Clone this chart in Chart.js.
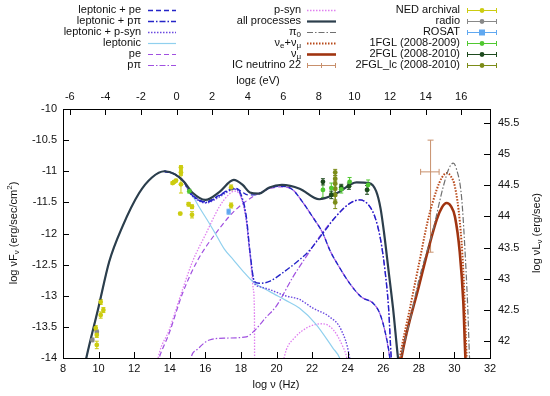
<!DOCTYPE html>
<html>
<head>
<meta charset="utf-8">
<script src="https://cdn.jsdelivr.net/npm/chart.js@4"></script>
<style>
  html, body { margin: 0; padding: 0; background: #fff; }
  #wrap { width: 550px; height: 396px; }
</style>
</head>
<body>
<div id="wrap"><canvas id="sed"></canvas></div>
<script>
// axis ticks
const nuTicks = [8, 10, 12, 14, 16, 18, 20, 22, 24, 26, 28, 30, 32];
const epsTicks = [-6, -4, -2, 0, 2, 4, 6, 8, 10, 12, 14, 16];
const fluxTicks = [-14, -13.5, -13, -12.5, -12, -11.5, -11, -10.5, -10];
const lumTicks = [42, 42.5, 43, 43.5, 44, 44.5, 45, 45.5];

// model curves: [log nu (Hz), log nuF_nu]
const allProc = [[9.2,-14.15],[9.31,-14],[10.0,-13.18],[10.6,-12.45],[11.34,-11.89],[12.28,-11.35],[13.0,-11.1],[13.7,-11.0],[14.3,-11.05],[14.8,-11.17],[15.3,-11.35],[16.0,-11.46],[16.8,-11.33],[17.6,-11.14],[18.1,-11.22],[18.5,-11.34],[19.0,-11.36],[19.6,-11.26],[20.3,-11.22],[21.3,-11.28],[22.4,-11.45],[23.4,-11.35],[24.5,-11.18],[25.2,-11.19],[25.6,-11.32],[25.85,-11.6],[26.05,-12.0],[26.3,-12.6],[26.55,-13.2],[26.83,-14],[26.9,-14.15]];
const leptonic = [[9.2,-14.15],[9.31,-14],[10.0,-13.18],[10.6,-12.45],[11.34,-11.89],[12.28,-11.35],[13.0,-11.1],[13.7,-11.0],[14.3,-11.05],[14.8,-11.17],[15.1,-11.3],[15.6,-11.55],[16.1,-11.78],[16.6,-12.02],[17.07,-12.25],[17.6,-12.43],[18.1,-12.6],[18.66,-12.77],[19.6,-12.93],[20.5,-13.07],[21.3,-13.2],[22.2,-13.45],[23.17,-13.84],[23.55,-14],[23.65,-14.1]];
const lepPe = [[13.7,-11.0],[14.3,-11.05],[14.8,-11.17],[15.1,-11.33],[15.6,-11.45],[16.04,-11.49],[16.8,-11.38],[17.45,-11.28],[17.65,-11.27],[18.0,-11.32],[18.4,-11.38],[18.8,-11.38],[19.6,-11.27],[20.3,-11.24],[20.92,-11.3],[21.48,-11.5],[22.0,-11.72],[22.61,-12.0],[23.0,-12.27],[23.55,-12.55],[24.11,-12.8],[24.77,-13.02],[25.43,-13.12],[25.8,-13.28],[26.08,-13.55],[26.37,-14],[26.42,-14.15]];
const lepPpi = [[13.7,-11.0],[14.3,-11.05],[14.8,-11.17],[15.1,-11.33],[15.6,-11.46],[16.04,-11.5],[16.8,-11.39],[17.45,-11.29],[17.65,-11.28],[18.0,-11.37],[18.3,-11.72],[18.5,-12.27],[18.76,-12.77],[19.04,-12.8],[19.6,-12.77],[20.4,-12.62],[21.3,-12.42],[21.86,-12.27],[22.6,-12.0],[23.36,-11.72],[24.1,-11.52],[24.68,-11.46],[25.2,-11.55],[25.55,-11.75],[25.85,-12.1],[26.1,-12.6],[26.3,-13.2],[26.45,-14],[26.5,-14.15]];
const lepPsyn = [[13.7,-11.0],[14.3,-11.05],[14.8,-11.17],[15.1,-11.34],[15.6,-11.47],[16.04,-11.51],[16.8,-11.41],[17.45,-11.3],[17.65,-11.29],[18.0,-11.4],[18.3,-11.78],[18.5,-12.3],[18.76,-12.8],[19.0,-12.85],[19.6,-12.9],[20.5,-13.0],[21.3,-13.06],[22.05,-13.2],[22.99,-13.34],[23.64,-13.55],[24.11,-14],[24.15,-14.1]];
const pe = [[13.3,-14.1],[13.4,-14],[13.97,-13.6],[14.72,-12.96],[15.57,-12.43],[16.79,-11.92],[17.7,-11.62],[18.66,-11.41],[19.6,-11.28],[20.3,-11.25],[20.92,-11.3],[21.48,-11.5],[22.0,-11.72],[22.61,-12.0],[23.0,-12.27],[23.55,-12.55],[24.11,-12.8],[24.77,-13.02],[25.43,-13.12],[25.8,-13.28],[26.08,-13.55],[26.37,-14],[26.42,-14.1]];
const pPi = [[15.1,-14.15],[15.19,-14],[15.6,-13.85],[16.23,-13.71],[17.17,-13.68],[18.3,-13.66],[18.8,-13.55],[19.4,-13.35],[19.98,-13.17],[20.92,-12.7],[21.86,-12.29],[22.42,-12.05],[23.36,-11.72],[24.1,-11.52],[24.68,-11.46],[25.2,-11.55],[25.55,-11.75],[25.85,-12.1],[26.1,-12.6],[26.3,-13.2],[26.45,-14],[26.5,-14.15]];
const pSyn = [[13.3,-14.1],[13.35,-14],[13.97,-13.55],[14.72,-12.9],[15.28,-12.45],[16.04,-12.0],[16.79,-11.57],[17.3,-11.38],[17.63,-11.32],[18.01,-11.42],[18.29,-11.75],[18.5,-12.3],[18.7,-12.9],[18.76,-13.3],[18.77,-14.2]];
const pSynHigh = [[20.3,-14.15],[20.55,-13.87],[21.0,-13.68],[21.8,-13.5],[22.6,-13.45],[23.2,-13.55],[23.7,-13.8],[23.95,-14],[24.0,-14.1]];
const pi0 = [[26.95,-14.1],[27.0,-14],[27.5,-13.4],[28.0,-12.75],[28.8,-11.94],[29.37,-11.25],[29.7,-10.95],[29.93,-10.87],[30.1,-10.95],[30.4,-11.41],[30.6,-12.3],[30.75,-13.2],[30.85,-14],[30.87,-14.1]];
const nuEMu = [[26.88,-14.1],[26.93,-14],[27.5,-13.2],[28.0,-12.5],[28.5,-11.8],[29.0,-11.3],[29.3,-11.1],[29.56,-11.03],[29.8,-11.08],[30.03,-11.25],[30.3,-11.8],[30.5,-12.6],[30.69,-14],[30.71,-14.1]];
const nuMu = [[26.97,-14.1],[27.02,-14],[28.0,-12.85],[29.0,-11.78],[29.3,-11.58],[29.56,-11.51],[29.8,-11.56],[30.03,-11.73],[30.3,-12.3],[30.5,-13.1],[30.62,-14],[30.65,-14.1]];

// data points: [log nu, log nuF_nu, error]
const nedPts = [[9.84,-13.52,0.04],[9.9,-13.63,0.04],[9.9,-13.79,0.06],[10.12,-13.1,0.04],[10.27,-13.23,0.04],[10.12,-13.31,0.05],[14.63,-10.94,0.03],[14.63,-11.02,0.03],[14.16,-11.19,0.02],[14.25,-11.17,0.02],[14.35,-11.15,0.02],[14.63,-11.21,0.14],[15.06,-11.53,0.03],[15.25,-11.57,0.03],[14.59,-11.68,0.02],[15.25,-11.7,0.05],[17.45,-11.26,0.04],[17.45,-11.55,0.04]];
const radioPts = [[9.9,-13.58,0.03],[9.65,-13.71,0.03]];
const rosatPts = [[17.31,-11.65,0.04]];
const fgl1Pts = [[15.1,-11.32,0.03],[22.61,-11.3,0.12],[23.08,-11.27,0.08],[23.64,-11.29,0.06],[24.11,-11.17,0.07],[25.15,-11.22,0.08]];
const fgl2Pts = [[22.61,-11.17,0.05],[23.08,-11.38,0.06],[23.64,-11.26,0.05],[24.07,-11.24,0.05],[25.09,-11.3,0.07]];
const lcPts = [[23.3,-11.02,0.05],[23.3,-11.12,0.05],[23.3,-11.2,0.06],[23.3,-11.28,0.07],[23.3,-11.38,0.08],[23.3,-11.5,0.1]];
// IC neutrino 22: [log nu, log nuF_nu, nu low, nu high, flux low, flux high]
const icNu = [[28.66,-11.01,28.1,29.14,-12.3,-10.5]];

const FAM = '"Liberation Sans", Arial, sans-serif';

const curveStyles = [
  {data: allProc, color: '#2c3e4c', width: 2.2, dash: []},
  {data: lepPe, color: '#2424c8', width: 1.4, dash: [5, 3]},
  {data: lepPpi, color: '#2424c8', width: 1.4, dash: [6, 2, 1.5, 2]},
  {data: lepPsyn, color: '#6a48e0', width: 1.4, dash: [1.5, 1.5]},
  {data: leptonic, color: '#90d0ee', width: 1.2, dash: []},
  {data: pe, color: '#a050e0', width: 1.2, dash: [5, 3]},
  {data: pPi, color: '#a050e0', width: 1.2, dash: [6, 2, 1.5, 2]},
  {data: pSyn, color: '#e080f0', width: 1.3, dash: [1.5, 1.5]},
  {data: pSynHigh, color: '#e080f0', width: 1.3, dash: [1.5, 1.5]},
  {data: pi0, color: '#707070', width: 1.2, dash: [6, 2, 1.5, 2]},
  {data: nuEMu, color: '#b84818', width: 2, dash: [1.5, 1.5]},
  {data: nuMu, color: '#a03410', width: 2.6, dash: []}
];

const pointStyles = [
  {data: nedPts, color: '#cccc10', shape: 'circle'},
  {data: radioPts, color: '#888888', shape: 'circle'},
  {data: rosatPts, color: '#60a8f0', shape: 'rect'},
  {data: fgl1Pts, color: '#50c830', shape: 'circle'},
  {data: fgl2Pts, color: '#1e4a1e', shape: 'circle'},
  {data: lcPts, color: '#7c8c18', shape: 'circle'}
];

const datasets = [];
pointStyles.forEach(s => datasets.push({
  data: s.data.map(p => ({x: p[0], y: p[1]})),
  showLine: false, pointStyle: s.shape, pointRadius: s.shape === 'rect' ? 3 : 2.4,
  backgroundColor: s.color, borderColor: s.color, borderWidth: 0
}));
curveStyles.forEach(s => datasets.push({
  data: s.data.map(p => ({x: p[0], y: p[1]})),
  showLine: true, pointRadius: 0, borderColor: s.color, borderWidth: s.width,
  borderDash: s.dash, cubicInterpolationMode: 'monotone', fill: false
}));

function drawRich(ctx, parts, x, y, align) {
  let w = 0;
  parts.forEach(p => { ctx.font = (p[1] ? '8px ' : '11px ') + FAM; w += ctx.measureText(p[0]).width; });
  let cx = align === 'right' ? x - w : align === 'center' ? x - w / 2 : x;
  ctx.textAlign = 'left';
  ctx.textBaseline = 'middle';
  parts.forEach(p => {
    ctx.font = (p[1] ? '8px ' : '11px ') + FAM;
    const dy = p[1] === 'sub' ? 3 : p[1] === 'sup' ? -4 : 0;
    ctx.fillText(p[0], cx, y + dy);
    cx += ctx.measureText(p[0]).width;
  });
}

// legend layout: [text parts, kind, style]
const legendCols = [
  {textRight: 141, x1: 148, x2: 176, items: [
    [[['leptonic + pe', '']], 'line', curveStyles[1]],
    [[['leptonic + pπ', '']], 'line', curveStyles[2]],
    [[['leptonic + p-syn', '']], 'line', curveStyles[3]],
    [[['leptonic', '']], 'line', curveStyles[4]],
    [[['pe', '']], 'line', curveStyles[5]],
    [[['pπ', '']], 'line', curveStyles[6]]
  ]},
  {textRight: 301, x1: 307, x2: 336, items: [
    [[['p-syn', '']], 'line', curveStyles[7]],
    [[['all processes', '']], 'line', curveStyles[0]],
    [[['π', ''], ['0', 'sub']], 'line', curveStyles[9]],
    [[['ν', ''], ['e', 'sub'], ['+ν', ''], ['μ', 'sub']], 'line', curveStyles[10]],
    [[['ν', ''], ['μ', 'sub']], 'line', curveStyles[11]],
    [[['IC neutrino 22', '']], 'bar', {color: '#c8906c'}]
  ]},
  {textRight: 460, x1: 467, x2: 497, items: [
    [[['NED archival', '']], 'pt', pointStyles[0]],
    [[['radio', '']], 'pt', pointStyles[1]],
    [[['ROSAT', '']], 'pt', pointStyles[2]],
    [[['1FGL (2008-2009)', '']], 'pt', pointStyles[3]],
    [[['2FGL (2008-2010)', '']], 'pt', pointStyles[4]],
    [[['2FGL_lc (2008-2010)', '']], 'pt', pointStyles[5]]
  ]}
];

const decorPlugin = {
  id: 'decor',
  beforeDatasetsDraw(chart) {
    const ctx = chart.ctx, xs = chart.scales.x, ys = chart.scales.y;
    ctx.save();
    ctx.setLineDash([]);
    ctx.lineWidth = 1;
    pointStyles.forEach(s => {
      ctx.strokeStyle = s.color;
      s.data.forEach(p => {
        const px = xs.getPixelForValue(p[0]);
        const y1 = ys.getPixelForValue(p[1] - p[2]);
        const y2 = ys.getPixelForValue(p[1] + p[2]);
        ctx.beginPath();
        ctx.moveTo(px, y1); ctx.lineTo(px, y2);
        ctx.moveTo(px - 2, y1); ctx.lineTo(px + 2, y1);
        ctx.moveTo(px - 2, y2); ctx.lineTo(px + 2, y2);
        ctx.stroke();
      });
    });
    ctx.strokeStyle = '#c8906c';
    icNu.forEach(p => {
      const px = xs.getPixelForValue(p[0]), py = ys.getPixelForValue(p[1]);
      const xl = xs.getPixelForValue(p[2]), xr = xs.getPixelForValue(p[3]);
      const yb = ys.getPixelForValue(p[4]), yt = ys.getPixelForValue(p[5]);
      ctx.beginPath();
      ctx.moveTo(xl, py); ctx.lineTo(xr, py);
      ctx.moveTo(px, yb); ctx.lineTo(px, yt);
      ctx.moveTo(xl, py - 3); ctx.lineTo(xl, py + 3);
      ctx.moveTo(xr, py - 3); ctx.lineTo(xr, py + 3);
      ctx.moveTo(px - 3, yt); ctx.lineTo(px + 3, yt);
      ctx.moveTo(px - 3, yb); ctx.lineTo(px + 3, yb);
      ctx.stroke();
    });
    ctx.restore();
  },
  afterDraw(chart) {
    const ctx = chart.ctx, a = chart.chartArea;
    ctx.save();
    // inward tick marks
    ctx.strokeStyle = '#000';
    ctx.lineWidth = 1;
    ctx.setLineDash([]);
    ctx.beginPath();
    nuTicks.forEach(v => { const p = Math.round(chart.scales.x.getPixelForValue(v)) + 0.5; ctx.moveTo(p, a.bottom); ctx.lineTo(p, a.bottom - 6); });
    epsTicks.forEach(v => { const p = Math.round(chart.scales.x2.getPixelForValue(v)) + 0.5; ctx.moveTo(p, a.top); ctx.lineTo(p, a.top + 6); });
    fluxTicks.forEach(v => { const p = Math.round(chart.scales.y.getPixelForValue(v)) + 0.5; ctx.moveTo(a.left, p); ctx.lineTo(a.left + 6, p); });
    lumTicks.forEach(v => { const p = Math.round(chart.scales.y2.getPixelForValue(v)) + 0.5; ctx.moveTo(a.right, p); ctx.lineTo(a.right - 6, p); });
    ctx.stroke();

    // axis titles
    ctx.fillStyle = '#111';
    drawRich(ctx, [['log ν (Hz)', '']], 276, 385, 'center');
    drawRich(ctx, [['logε (eV)', '']], 258, 81, 'center');
    ctx.save();
    ctx.translate(14, 233);
    ctx.rotate(-Math.PI / 2);
    drawRich(ctx, [['log νF', ''], ['ν', 'sub'], [' (erg/sec/cm', ''], ['2', 'sup'], [')', '']], 0, 0, 'center');
    ctx.restore();
    ctx.save();
    ctx.translate(537, 233);
    ctx.rotate(-Math.PI / 2);
    drawRich(ctx, [['log νL', ''], ['ν', 'sub'], [' (erg/sec)', '']], 0, 0, 'center');
    ctx.restore();

    // legend
    legendCols.forEach(col => {
      col.items.forEach((it, i) => {
        const y = 10 + i * 11;
        ctx.fillStyle = '#111';
        drawRich(ctx, it[0], col.textRight, y, 'right');
        const st = it[2];
        ctx.strokeStyle = st.color;
        if (it[1] === 'line') {
          ctx.lineWidth = st.width;
          ctx.setLineDash(st.dash);
          ctx.beginPath(); ctx.moveTo(col.x1, y + 0.5); ctx.lineTo(col.x2, y + 0.5); ctx.stroke();
        } else {
          ctx.lineWidth = 1;
          ctx.setLineDash([]);
          ctx.beginPath();
          ctx.moveTo(col.x1, y + 0.5); ctx.lineTo(col.x2, y + 0.5);
          ctx.moveTo(col.x1 + 0.5, y - 2); ctx.lineTo(col.x1 + 0.5, y + 3);
          ctx.moveTo(col.x2 - 0.5, y - 2); ctx.lineTo(col.x2 - 0.5, y + 3);
          ctx.stroke();
          const cx = (col.x1 + col.x2) / 2;
          if (it[1] === 'bar') {
            ctx.beginPath(); ctx.moveTo(cx, y - 2); ctx.lineTo(cx, y + 3); ctx.stroke();
          } else {
            ctx.fillStyle = st.color;
            ctx.beginPath();
            if (st.shape === 'rect') ctx.rect(cx - 3, y - 2.5, 6, 6);
            else ctx.arc(cx, y + 0.5, 2.4, 0, Math.PI * 2);
            ctx.fill();
          }
        }
      });
    });
    ctx.restore();
  }
};

function axis(pos, min, max, ticks, size, pad) {
  const horiz = pos === 'top' || pos === 'bottom';
  return {
    type: 'linear', position: pos, min: min, max: max,
    afterBuildTicks: s => { s.ticks = ticks.map(v => ({value: v})); },
    afterFit: s => { if (horiz) s.height = size; else s.width = size; },
    grid: {display: false, drawTicks: false},
    border: {display: true, color: '#000', width: 1},
    ticks: {padding: pad, color: '#111', font: {size: 11, family: FAM}, callback: v => String(v), maxRotation: 0, autoSkip: false}
  };
}

new Chart(document.getElementById('sed'), {
  type: 'scatter',
  data: {datasets: datasets},
  options: {
    responsive: true,
    maintainAspectRatio: false,
    animation: false,
    devicePixelRatio: 1,
    layout: {padding: 0},
    plugins: {legend: {display: false}, tooltip: {enabled: false}},
    scales: {
      x: axis('bottom', 8, 32, nuTicks, 38, 4),
      x2: axis('top', -6.383, 17.617, epsTicks, 109, 5),
      y: axis('left', -14, -10, fluxTicks, 63, 6),
      y2: axis('right', 41.725, 45.725, lumTicks, 60, 8)
    }
  },
  plugins: [decorPlugin]
});
</script>
</body>
</html>
